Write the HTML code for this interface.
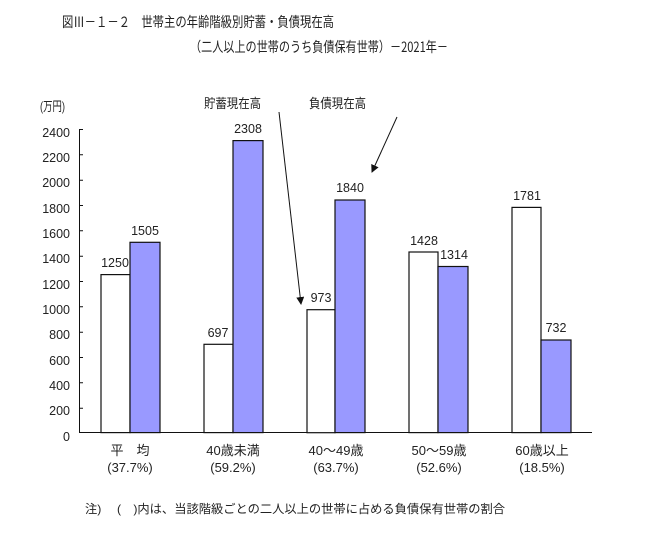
<!DOCTYPE html>
<html><head><meta charset="utf-8"><style>
body{margin:0;background:#fff}
svg text{font-family:"Liberation Sans Narrow","Liberation Sans","Noto Sans CJK JP",sans-serif;fill:#222}
</style></head><body>
<svg width="646" height="536" viewBox="0 0 646 536" xmlns="http://www.w3.org/2000/svg">
<defs><marker id="ah" markerWidth="8" markerHeight="8" refX="7" refY="4" orient="auto" markerUnits="userSpaceOnUse"><path d="M0,0 L8,4 L0,8 z" fill="#111"/></marker></defs>
<g font-size="14">
<text x="62" y="27" style="font-family:'Noto Sans CJK JP',sans-serif" textLength="272" lengthAdjust="spacingAndGlyphs">図Ⅲ－１－２　世帯主の年齢階級別貯蓄・負債現在高</text>
<text x="190" y="52" style="font-family:'Noto Sans CJK JP',sans-serif" textLength="258" lengthAdjust="spacingAndGlyphs">（二人以上の世帯のうち負債保有世帯）－2021年－</text>
</g>
<g font-size="13">
<text x="40" y="111" textLength="25" lengthAdjust="spacingAndGlyphs">(万円)</text>
<text x="204" y="108" textLength="57" lengthAdjust="spacingAndGlyphs">貯蓄現在高</text>
<text x="309" y="108" textLength="57" lengthAdjust="spacingAndGlyphs">負債現在高</text>
</g>
<g font-size="12.5" text-anchor="end">
<text x="70" y="137">2400</text><text x="70" y="162">2200</text><text x="70" y="187">2000</text><text x="70" y="213">1800</text><text x="70" y="238">1600</text><text x="70" y="263">1400</text><text x="70" y="289">1200</text><text x="70" y="314">1000</text><text x="70" y="339">800</text><text x="70" y="365">600</text><text x="70" y="390">400</text><text x="70" y="415">200</text><text x="70" y="441">0</text>
</g>
<g stroke="#111" stroke-width="1">
<line x1="79.5" y1="129" x2="79.5" y2="433"/>
<line x1="79" y1="432.5" x2="592" y2="432.5"/>
<path d="M79,129.5h4M79,154.8h4M79,180.2h4M79,205.5h4M79,230.8h4M79,256.2h4M79,281.5h4M79,306.8h4M79,332.2h4M79,357.5h4M79,382.8h4M79,408.2h4"/>
</g>
<g stroke="#111" stroke-width="1.2">
<rect x="101" y="274.6" width="29" height="158" fill="#fff"/>
<rect x="130" y="242.3" width="30" height="190.3" fill="#9999ff"/>
<rect x="204" y="344.3" width="29" height="88.3" fill="#fff"/>
<rect x="233" y="140.6" width="30" height="292" fill="#9999ff"/>
<rect x="307" y="309.7" width="28" height="123" fill="#fff"/>
<rect x="335" y="200" width="30" height="232.6" fill="#9999ff"/>
<rect x="409" y="252" width="29" height="180.6" fill="#fff"/>
<rect x="438" y="266.5" width="30" height="166.1" fill="#9999ff"/>
<rect x="512" y="207.4" width="29" height="225.2" fill="#fff"/>
<rect x="541" y="340" width="30" height="92.6" fill="#9999ff"/>
</g>
<g font-size="12.5" text-anchor="middle">
<text x="115" y="267">1250</text><text x="145" y="235">1505</text>
<text x="218" y="337">697</text><text x="248" y="133">2308</text>
<text x="321" y="302">973</text><text x="350" y="192">1840</text>
<text x="424" y="245">1428</text><text x="454" y="259">1314</text>
<text x="527" y="200">1781</text><text x="556" y="332">732</text>
</g>
<g stroke="#111" stroke-width="1" fill="none">
<line x1="279" y1="112" x2="301" y2="304" marker-end="url(#ah)"/>
<line x1="397" y1="117" x2="372" y2="172" marker-end="url(#ah)"/>
</g>
<g font-size="13" text-anchor="middle">
<text x="130" y="455">平　均</text><text x="130" y="472">(37.7%)</text>
<text x="233" y="455">40歳未満</text><text x="233" y="472">(59.2%)</text>
<text x="336" y="455">40～49歳</text><text x="336" y="472">(63.7%)</text>
<text x="439" y="455">50～59歳</text><text x="439" y="472">(52.6%)</text>
<text x="542" y="455">60歳以上</text><text x="542" y="472">(18.5%)</text>
</g>
<text x="85" y="513" font-size="12" textLength="420" lengthAdjust="spacingAndGlyphs">注)　 (　)内は、当該階級ごとの二人以上の世帯に占める負債保有世帯の割合</text>
</svg>
</body></html>
